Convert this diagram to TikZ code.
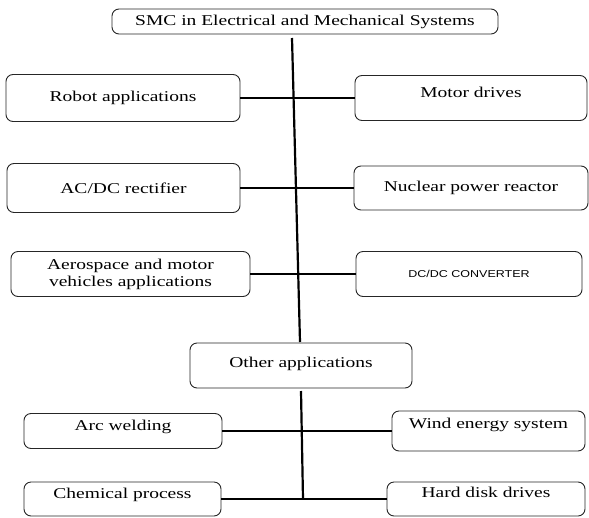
\documentclass[tikz,border=0pt]{standalone}
\usepackage{fontspec}
\setmainfont{Liberation Serif}[FakeStretch=1.3]
\newfontfamily\capsfont{Liberation Sans}[FakeStretch=1.25]
\usepackage{tikz}

\begin{document}
\begin{tikzpicture}[x=1pt, y=-1pt,
        appbox/.style={draw=black!85, line width=0.9pt, rounded corners=7pt, inner sep=0pt,
                       align=center, font=\fontsize{15}{17}\selectfont},
        lift/.style={text depth=#1},
        link/.style={line width=1.8pt},
        spine/.style={line width=2.2pt}]
        \useasboundingbox (0,0) rectangle (589,517);

        % Root
        \node[appbox, minimum width=386pt, minimum height=25pt] (smc) at (305,21.5) {SMC in Electrical and Mechanical Systems};

        % Left column
        \node[appbox, minimum width=234pt, minimum height=47pt] (robot) at (123,98)    {Robot applications};
        \node[appbox, minimum width=233pt, minimum height=49pt] (acdc)  at (123.5,188) {AC/DC rectifier};
        \node[appbox, minimum width=239pt, minimum height=45pt] (aero)  at (130.5,274) {Aerospace and motor\\vehicles applications};

        % Right column
        \node[appbox, lift=11pt, minimum width=232pt, minimum height=45pt] (motor)   at (471,98)    {Motor drives};
        \node[appbox, minimum width=234pt, minimum height=44pt] (nuclear) at (471,188)   {Nuclear power reactor};
        \node[appbox, minimum width=226pt, minimum height=45pt, font=\capsfont\fontsize{10}{12}\selectfont] (dcdc) at (469,274) {DC/DC CONVERTER};

        % Other applications
        \node[appbox, lift=7pt, minimum width=222pt, minimum height=45pt] (other) at (301,365.5) {Other applications};
        \node[appbox, lift=11pt, minimum width=198pt, minimum height=35pt] (arc)   at (123,431)   {Arc welding};
        \node[appbox, lift=15pt, minimum width=193pt, minimum height=40pt] (wind)  at (488.5,431) {Wind energy system};
        \node[appbox, lift=11pt, minimum width=197pt, minimum height=34pt] (chem)  at (122.5,499) {Chemical process};
        \node[appbox, lift=13pt, minimum width=198pt, minimum height=34pt] (hdd)   at (486,499)   {Hard disk drives};

        % Spine ends
        \coordinate (top1) at (292,38);
        \coordinate (bot1) at (300,342);
        \coordinate (top2) at (301,391);
        \coordinate (bot2) at (303,499);

        % Spines
        \draw[spine] (top1)--(bot1);
        \draw[spine] (top2)--(bot2);

        % Branches
        \draw[link] (robot)--(motor);
        \draw[link] (acdc)--(nuclear);
        \draw[link] (aero)--(dcdc);
        \draw[link] (arc)--(wind);
        \draw[link] (chem)--(hdd);
    \end{tikzpicture}
\end{document}
